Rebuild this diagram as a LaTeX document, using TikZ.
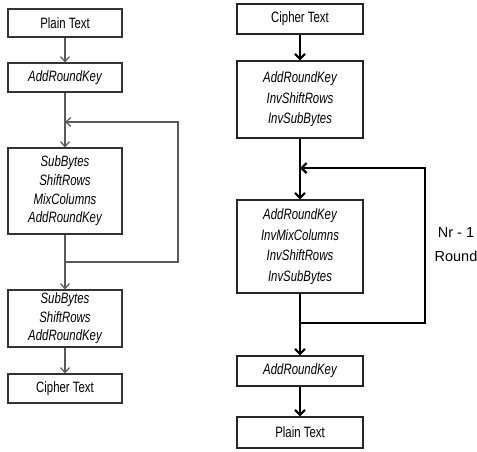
\documentclass[tikz,border=0pt]{standalone}
\usepackage{fontspec}
\setmainfont{Liberation Sans}
\newfontfamily\boxfont{Liberation Sans}[FakeStretch=0.76]
\usetikzlibrary{arrows.meta}
\begin{document}
\begin{tikzpicture}[x=1pt,y=-1pt,
  lbox/.style={draw=black!80, line width=1.1pt, minimum width=114pt, inner sep=0pt, align=center,
    font=\boxfont\fontsize{15}{18.6}\selectfont},
  rbox/.style={draw=black!85, line width=1.2pt, minimum width=126pt, inner sep=0pt, align=center,
    font=\boxfont\fontsize{15}{20.5}\selectfont},
  lline/.style={draw=black!65, line width=1.2pt},
  larrow/.style={lline, -{Straight Barb[length=5pt,width=9pt]}},
  rline/.style={draw=black, line width=2.2pt},
  rarrow/.style={rline, -{Straight Barb[length=5pt,width=10pt]}}
]
\useasboundingbox (0,0) rectangle (477,451);
\fill[white] (0,0) rectangle (477,451);

% ---------------- left column (encryption)
\node[lbox, minimum height=28pt] (lpt) at (65,23) {Plain Text};
\node[lbox, minimum height=29pt] (lark) at (65,77.5) {\itshape AddRoundKey};
\node[lbox, minimum height=86pt] (lround) at (65,191) {\itshape SubBytes\\\itshape ShiftRows\\\itshape MixColumns\\\itshape AddRoundKey};
\node[lbox, minimum height=57pt] (lfinal) at (65,318.5) {\itshape SubBytes\\\itshape ShiftRows\\\itshape AddRoundKey};
\node[lbox, minimum height=29pt] (lct) at (65,388.5) {Cipher Text};

\coordinate (lj1) at (65,262);
\coordinate (lj2) at (65,122);
\coordinate (lr) at (178,262);

\draw[larrow] (lpt) -- (lark);
\draw[larrow] (lark) -- (lround);
\draw[larrow] (lround) -- (lfinal);
\draw[larrow] (lfinal) -- (lct);
\draw[larrow] (lj1) -- (lr) |- (lj2);

% ---------------- right column (decryption)
\node[rbox, minimum height=30pt] (rct) at (300,19) {Cipher Text};
\node[rbox, minimum height=77pt] (rfirst) at (300,99.5) {\itshape AddRoundKey\\\itshape InvShiftRows\\\itshape InvSubBytes};
\node[rbox, minimum height=93pt] (rround) at (300,246.5) {\itshape AddRoundKey\\\itshape InvMixColumns\\\itshape InvShiftRows\\\itshape InvSubBytes};
\node[rbox, minimum height=30pt] (rark) at (300,371) {\itshape AddRoundKey};
\node[rbox, minimum height=31pt] (rpt) at (300,432.5) {Plain Text};

\coordinate (rj1) at (300,323);
\coordinate (rj2) at (300,168);
\coordinate (rr) at (425,323);

\draw[rarrow] (rct) -- (rfirst);
\draw[rarrow] (rfirst) -- (rround);
\draw[rarrow] (rround) -- (rark);
\draw[rarrow] (rark) -- (rpt);
\draw[rarrow] (rj1) -- (rr) |- (rj2);

\node[align=center, font=\fontsize{14.5}{24}\selectfont, inner sep=0pt] (lbl) at (456,245) {Nr - 1\\Round};
\end{tikzpicture}
\end{document}
